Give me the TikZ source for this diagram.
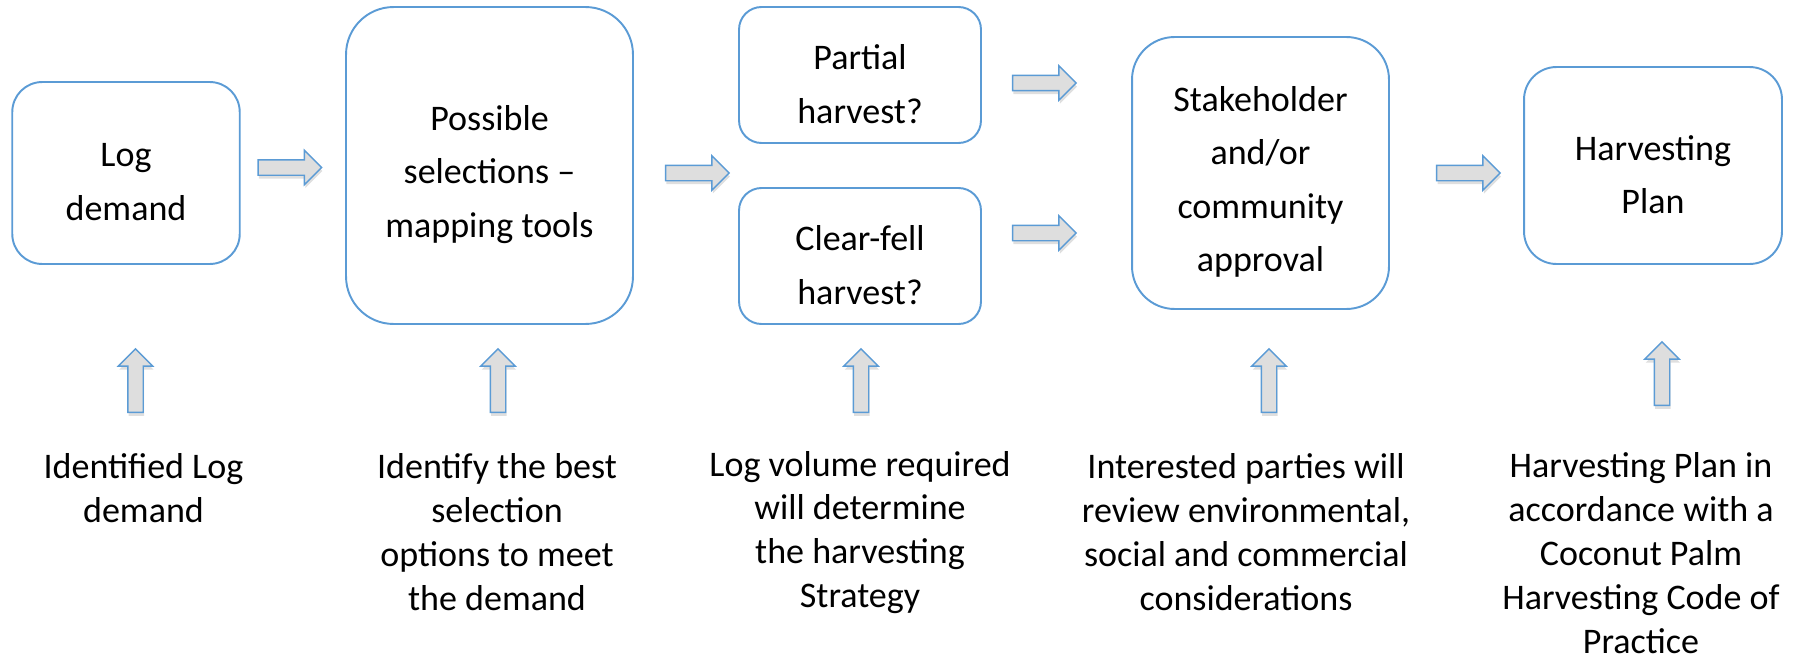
\documentclass[tikz,border=0pt]{standalone}
\usepackage{fontspec}
\setmainfont{Carlito}
\usetikzlibrary{shapes.arrows,shadows}
\definecolor{boxblue}{RGB}{91,155,213}
\definecolor{arrowgray}{RGB}{222,222,222}
\def\stagenode{\node[stage]}
\def\notenode{\node[note]}
\def\blockarrow{\node[blockarrow]}

\begin{document}
\begin{tikzpicture}[x=0.02cm,y=-0.02cm,
  stage/.style={draw=boxblue,line width=1.1pt,inner sep=0pt},
  stagetext/.style={align=center,inner sep=0pt,yshift=-0.18cm,
    font=\fontsize{20.5}{30.5}\selectfont},
  note/.style={align=center,inner sep=0pt,font=\fontsize{20.5}{25}\selectfont},
  blockarrow/.style={single arrow,draw=boxblue,fill=arrowgray,line width=0.8pt,
    inner sep=0.14cm,single arrow head extend=0.19cm,minimum height=1.27cm,
    drop shadow={shadow xshift=0.5pt,shadow yshift=-2pt,opacity=0.25}}]
\useasboundingbox (0,0) rectangle (1802,659);
% the stages
\stagenode[minimum width=4.55cm,minimum height=3.64cm,rounded corners=0.6cm,
  label={[stagetext]center:{Log\\demand}}] (logd) at (126,173) {};
\stagenode[minimum width=5.74cm,minimum height=6.34cm,rounded corners=0.95cm,
  label={[stagetext]center:{Possible\\selections –\\mapping tools}}] (poss) at (489.5,165.5) {};
\stagenode[minimum width=4.84cm,minimum height=2.72cm,rounded corners=0.45cm,
  label={[stagetext]center:{Partial\\harvest?}}] (part) at (860,75) {};
\stagenode[minimum width=4.84cm,minimum height=2.72cm,rounded corners=0.45cm,
  label={[stagetext]center:{Clear-fell\\harvest?}}] (clear) at (860,256) {};
\stagenode[minimum width=5.14cm,minimum height=5.44cm,rounded corners=0.85cm,
  label={[stagetext]center:{Stakeholder\\and/or\\community\\approval}}] (stake) at (1260.5,173) {};
\stagenode[minimum width=5.16cm,minimum height=3.94cm,rounded corners=0.65cm,
  label={[stagetext]center:{Harvesting\\Plan}}] (plan) at (1653,165.5) {};
% arrows between stages
\blockarrow (a1) at (286,167.5) {};
\blockarrow (a2) at (693.5,173) {};
\blockarrow (a3) at (1040.5,83) {};
\blockarrow (a4) at (1040.5,233) {};
\blockarrow (a5) at (1464.5,173) {};
% arrows from the notes
\blockarrow[shape border rotate=90] (u1) at (135.5,384.5) {};
\blockarrow[shape border rotate=90] (u2) at (498,384.5) {};
\blockarrow[shape border rotate=90] (u3) at (861,384.5) {};
\blockarrow[shape border rotate=90] (u4) at (1269,384.5) {};
\blockarrow[shape border rotate=90] (u5) at (1662,377.5) {};
% the notes
\notenode (l1) at (143.5,488) {Identified Log\\demand};
\notenode (l2) at (497,532.5) {Identify the best\\selection\\options to meet\\the demand};
\notenode (l3) at (860,532.5) {Log volume required\\will determine\\the harvesting\\Strategy};
\notenode (l4) at (1246,532.5) {Interested parties will\\review environmental,\\social and commercial\\considerations};
\notenode (l5) at (1641,553) {Harvesting Plan in\\accordance with a\\Coconut Palm\\Harvesting Code of\\Practice};
\end{tikzpicture}
\end{document}
